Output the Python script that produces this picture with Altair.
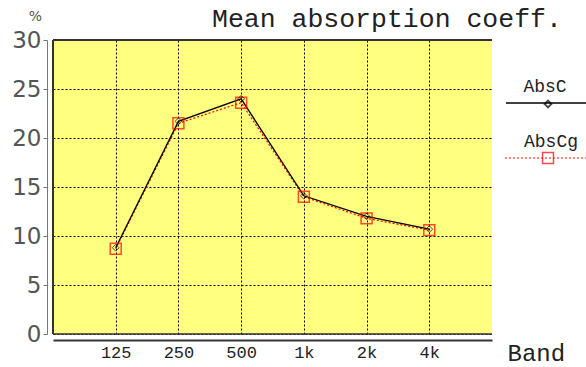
import altair as alt
import pandas as pd

bands = ["125", "250", "500", "1k", "2k", "4k"]
abs_c = [8.8, 21.7, 24.0, 14.1, 12.0, 10.7]
abs_cg = [8.7, 21.5, 23.6, 14.0, 11.8, 10.6]
series_names = ["AbsC", "AbsCg"]
y_ticks = [0, 5, 10, 15, 20, 25, 30]
chart_title = ["Mean absorption coeff."]

df = pd.DataFrame({"band": bands, "AbsC": abs_c, "AbsCg": abs_cg})
leg = pd.DataFrame({"name": series_names})
ttl = pd.DataFrame({"t": chart_title})

W, H = 439, 294
mono = "Liberation Mono"

x_enc = alt.X(
    "band:N", sort=bands, title="Band",
    scale=alt.Scale(type="point", padding=1),
    axis=alt.Axis(
        offset=6, domainColor="#333333", domainWidth=2, ticks=False,
        labelFont=mono, labelFontSize=17, labelColor="#222222", labelAngle=0,
        labelPadding=4,
        grid=True, gridColor="black", gridDash=[2, 2], gridWidth=1,
        titleFont=mono, titleFontSize=24, titleFontWeight="normal", titleColor="#222222",
        titleAnchor="start", titleAlign="left", titleX=454, titleY=13, titleBaseline="middle",
    ),
)
y_scale = alt.Scale(domain=[0, 30], nice=False, zero=True)
y_axis = alt.Axis(
    values=y_ticks, offset=6, domainColor="#777777", tickColor="#777777", tickSize=4,
    labelFont="DejaVu Sans", labelFontSize=23, labelColor="#555555", labelPadding=2,
    grid=True, gridColor="black", gridDash=[2, 2], gridWidth=1,
    title="%", titleAngle=0, titleFont="DejaVu Sans", titleFontSize=14,
    titleFontWeight="normal", titleColor="#555555", titleX=-12, titleY=-24,
    titleAlign="center", titleBaseline="middle",
)

base = alt.Chart(df).encode(x=x_enc)

red_line = base.mark_line(color="#ff0000", strokeDash=[2, 2], strokeWidth=1.2).encode(
    y=alt.Y("AbsCg:Q", scale=y_scale, axis=y_axis))
black_line = base.mark_line(color="black", strokeWidth=1.3).encode(
    y=alt.Y("AbsC:Q", scale=y_scale))
red_pts = base.mark_point(shape="square", color="#ff0000", filled=False, size=120, strokeWidth=1.5).encode(
    y=alt.Y("AbsCg:Q", scale=y_scale))
black_pts = base.mark_point(shape="diamond", color="black", filled=False, size=45, strokeWidth=1).encode(
    y=alt.Y("AbsC:Q", scale=y_scale))

# plot frame (top, left, bottom)
frame_top = alt.Chart(leg.head(1)).mark_rule(color="#333333", strokeWidth=2).encode(
    x=alt.value(0), x2=alt.value(W), y=alt.value(0))
frame_left = alt.Chart(leg.head(1)).mark_rule(color="#333333", strokeWidth=2).encode(
    x=alt.value(0), y=alt.value(0), y2=alt.value(H))
frame_bottom = alt.Chart(leg.head(1)).mark_rule(color="#333333", strokeWidth=1.5).encode(
    x=alt.value(0), x2=alt.value(W), y=alt.value(H))

# title as text
title_txt = alt.Chart(ttl).mark_text(
    font=mono, fontSize=26.5, color="#222222", align="left", baseline="alphabetic"
).encode(text="t:N", x=alt.value(159), y=alt.value(-13))

# manual legend
leg_c = leg[leg.name == "AbsC"]
leg_g = leg[leg.name == "AbsCg"]
lc_text = alt.Chart(leg_c).mark_text(font=mono, fontSize=18, color="#222222").encode(
    text="name:N", x=alt.value(492), y=alt.value(47))
lc_line = alt.Chart(leg_c).mark_rule(color="black", strokeWidth=1.3).encode(
    x=alt.value(453), x2=alt.value(533), y=alt.value(63))
lc_pt = alt.Chart(leg_c).mark_point(shape="diamond", color="black", filled=False, size=45).encode(
    x=alt.value(495), y=alt.value(64))
lg_text = alt.Chart(leg_g).mark_text(font=mono, fontSize=18, color="#222222").encode(
    text="name:N", x=alt.value(498), y=alt.value(102))
lg_line = alt.Chart(leg_g).mark_rule(color="#ff0000", strokeWidth=1.2, strokeDash=[2, 2]).encode(
    x=alt.value(452), x2=alt.value(533), y=alt.value(118))
lg_pt = alt.Chart(leg_g).mark_point(shape="square", color="#ff0000", filled=False, size=120, strokeWidth=1.5).encode(
    x=alt.value(495), y=alt.value(118))

chart = alt.layer(
    red_line, black_line, red_pts, black_pts,
    frame_top, frame_left, frame_bottom, title_txt,
    lc_text, lc_line, lc_pt, lg_text, lg_line, lg_pt,
).properties(
    width=W, height=H,
    background="white",
    autosize=alt.AutoSizeParams(type="none"),
    padding={"left": 53, "top": 40, "right": 94, "bottom": 33},
).configure_view(
    fill="#ffff80", stroke=None
)

chart.save("out.html", embed_options={"renderer": "svg", "actions": False})
